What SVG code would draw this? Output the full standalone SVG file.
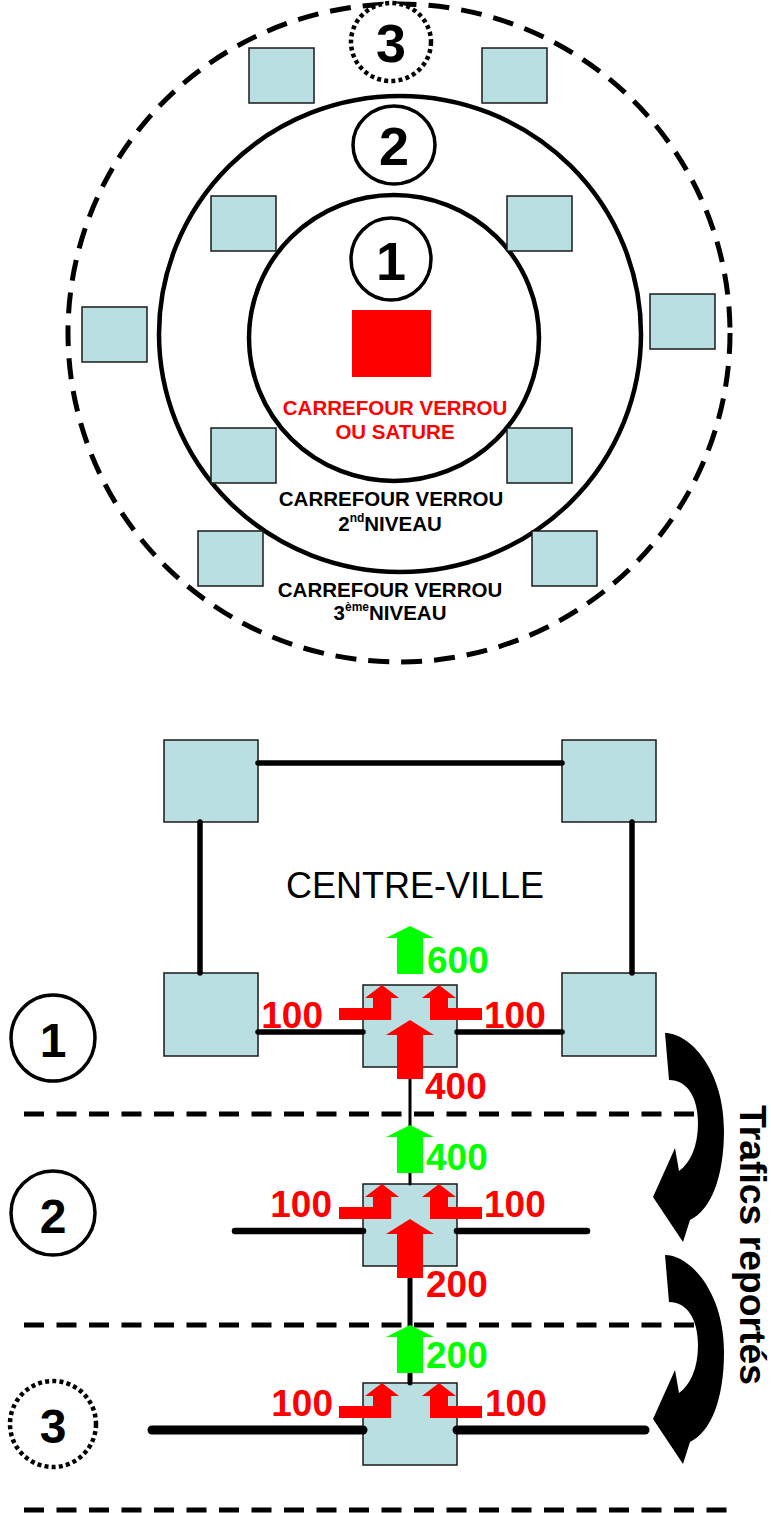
<svg xmlns="http://www.w3.org/2000/svg" xmlns:xlink="http://www.w3.org/1999/xlink" width="771" height="1513" viewBox="0 0 771 1513">
<style>
.box{fill:#B9DFE2;stroke:#1a1a1a;stroke-width:1.5}
.ring{fill:none;stroke:#000;stroke-width:4.5}
.dashring{fill:none;stroke:#000;stroke-width:5;stroke-dasharray:21 12}
.num{fill:#fff;stroke:#000;stroke-width:3.5}
.numdot{fill:#fff;stroke:#000;stroke-width:4.5;stroke-dasharray:4 3.2}
.dig{font-family:"Liberation Sans",Arial,sans-serif;font-weight:bold;text-anchor:middle;fill:#000}
.lbl{font-family:"Liberation Sans",Arial,sans-serif;font-weight:bold;font-size:20.5px;text-anchor:middle}
.val{font-family:"Liberation Sans",Arial,sans-serif;font-weight:bold;font-size:37px}
.red{fill:#FF0000}
.green{fill:#00FF00}
.road{stroke:#000;stroke-linecap:round;fill:none}
.dash{stroke:#000;stroke-width:5;stroke-dasharray:20 12.5;fill:none}
</style>
<defs>
<polygon id="upG" points="0,0 24,12 13,12 13,48 -13,48 -13,12 -24,12"/>
<polygon id="upR" points="0,0 24,15 13,15 13,59 -13,59 -13,15 -24,15"/>
<polygon id="lL" points="0,0 17,13 9,13 9,35 -43,35 -43,23 -9,23 -9,13 -17,13"/>
<polygon id="lR" points="0,0 17,13 9,13 9,23 43,23 43,35 -9,35 -9,13 -17,13"/>
<path id="curv" d="M665,1033 C690,1033 724,1070 724,1130 C724,1177 711,1210 690,1220 L683,1242 L653,1197 L675,1148 L679,1171 C690,1163 698,1147 698,1123 C698,1097 687,1080 669,1080 Z"/>
</defs>

<!-- TOP: concentric zones -->
<g id="zones">
<ellipse id="zone3" class="dashring" cx="399" cy="333" rx="331" ry="329"/>
<ellipse id="zone2" class="ring" cx="400" cy="334" rx="241" ry="238"/>
<ellipse id="zone1" class="ring" cx="394" cy="338" rx="145" ry="143"/>
</g>
<g id="top-boxes">
<rect id="tb1" class="box" x="249" y="48" width="65" height="55"/>
<rect id="tb2" class="box" x="482" y="48" width="65" height="55"/>
<rect id="tb3" class="box" x="211" y="196" width="65" height="55"/>
<rect id="tb4" class="box" x="507" y="196" width="65" height="55"/>
<rect id="tb5" class="box" x="82" y="307" width="65" height="55"/>
<rect id="tb6" class="box" x="650" y="294" width="65" height="55"/>
<rect id="tb7" class="box" x="211" y="428" width="65" height="55"/>
<rect id="tb8" class="box" x="507" y="428" width="65" height="55"/>
<rect id="tb9" class="box" x="198" y="531" width="65" height="55"/>
<rect id="tb10" class="box" x="532" y="531" width="65" height="55"/>
</g>
<g id="center-node">
<rect x="352" y="310" width="79" height="67" fill="#FF0000"/>
</g>
<g id="top-num3">
<ellipse class="numdot" cx="391" cy="42" rx="40" ry="39"/>
<text class="dig" x="391" y="62" font-size="54">3</text>
</g>
<g id="top-num2">
<ellipse class="num" cx="394" cy="145" rx="41" ry="39"/>
<text class="dig" x="394" y="165" font-size="54">2</text>
</g>
<g id="top-num1">
<ellipse class="num" cx="391" cy="259" rx="40" ry="41"/>
<text class="dig" x="391" y="280" font-size="54">1</text>
</g>
<g id="top-labels">
<text class="lbl red" x="395" y="415">CARREFOUR VERROU</text>
<text class="lbl red" x="395" y="439">OU SATURE</text>
<text class="lbl" x="391" y="506">CARREFOUR VERROU</text>
<text class="lbl" x="390" y="531">2<tspan font-size="12" dy="-9">nd</tspan><tspan dy="9">NIVEAU</tspan></text>
<text class="lbl" x="390" y="597">CARREFOUR VERROU</text>
<text class="lbl" x="390" y="620">3<tspan font-size="12" dy="-9">ème</tspan><tspan dy="9">NIVEAU</tspan></text>
</g>

<!-- BOTTOM -->
<g id="level-lines">
<line class="dash" x1="24" y1="1114" x2="695" y2="1114"/>
<line class="dash" x1="24" y1="1325" x2="695" y2="1325"/>
<line class="dash" x1="24" y1="1510" x2="727" y2="1510"/>
</g>

<g id="node-tl"><rect class="box" x="164" y="740" width="94" height="82"/></g>
<g id="node-tr"><rect class="box" x="562" y="740" width="94" height="82"/></g>
<g id="node-bl"><rect class="box" x="164" y="973" width="94" height="83"/></g>
<g id="node-br"><rect class="box" x="562" y="973" width="94" height="83"/></g>
<g id="node-c1"><rect class="box" x="363" y="985" width="94" height="82"/></g>
<g id="node-c2"><rect class="box" x="363" y="1184" width="94" height="82"/></g>
<g id="node-c3"><rect class="box" x="363" y="1383" width="94" height="82"/></g>

<g id="connectors">
<line class="road" x1="258" y1="763" x2="562" y2="763" stroke-width="5.5" stroke-linecap="butt"/>
<line class="road" x1="200" y1="822" x2="200" y2="973" stroke-width="5.5" stroke-linecap="butt"/>
<line class="road" x1="632" y1="822" x2="632" y2="973" stroke-width="5.5" stroke-linecap="butt"/>
<line class="road" x1="258" y1="1032" x2="363" y2="1032" stroke-width="5.5" stroke-linecap="butt"/>
<line class="road" x1="457" y1="1032" x2="562" y2="1032" stroke-width="5.5" stroke-linecap="butt"/>
<line class="road" x1="410" y1="1067" x2="410" y2="1184" stroke-width="3"/>
<line class="road" x1="235" y1="1231" x2="363" y2="1231" stroke-width="6.5"/>
<line class="road" x1="457" y1="1231" x2="587" y2="1231" stroke-width="6.5"/>
<line class="road" x1="410" y1="1266" x2="410" y2="1383" stroke-width="5"/>
<line class="road" x1="152" y1="1430" x2="363" y2="1430" stroke-width="9"/>
<line class="road" x1="457" y1="1430" x2="645" y2="1430" stroke-width="9"/>
</g>

<text id="centre-ville" x="415" y="898" font-family="'Liberation Sans',Arial,sans-serif" font-size="36" text-anchor="middle" fill="#000">CENTRE-VILLE</text>

<g id="flows-1">
<use xlink:href="#upG" class="green" x="410" y="926"/>
<use xlink:href="#lL" class="red" x="382" y="985"/>
<use xlink:href="#lR" class="red" x="439" y="985"/>
<use xlink:href="#upR" class="red" x="410" y="1020"/>
<text class="val green" x="427" y="973">600</text>
<text class="val red" x="323" y="1028" text-anchor="end">100</text>
<text class="val red" x="484" y="1028">100</text>
<text class="val red" x="425" y="1099">400</text>
</g>
<g id="flows-2">
<use xlink:href="#upG" class="green" x="410" y="1125"/>
<use xlink:href="#lL" class="red" x="382" y="1184"/>
<use xlink:href="#lR" class="red" x="439" y="1184"/>
<use xlink:href="#upR" class="red" x="410" y="1219"/>
<text class="val green" x="426" y="1170">400</text>
<text class="val red" x="332" y="1217" text-anchor="end">100</text>
<text class="val red" x="484" y="1217">100</text>
<text class="val red" x="426" y="1297">200</text>
</g>
<g id="flows-3">
<use xlink:href="#upG" class="green" x="410" y="1325"/>
<use xlink:href="#lL" class="red" x="382" y="1383"/>
<use xlink:href="#lR" class="red" x="439" y="1383"/>
<text class="val green" x="426" y="1368">200</text>
<text class="val red" x="333" y="1416" text-anchor="end">100</text>
<text class="val red" x="485" y="1416">100</text>
</g>

<g id="num1">
<ellipse class="num" cx="53" cy="1038" rx="42" ry="43"/>
<text class="dig" x="53" y="1057" font-size="48">1</text>
</g>
<g id="num2">
<ellipse class="num" cx="53" cy="1213" rx="42" ry="42"/>
<text class="dig" x="53" y="1233" font-size="48">2</text>
</g>
<g id="num3">
<ellipse class="numdot" cx="53" cy="1424" rx="43" ry="43"/>
<text class="dig" x="53" y="1443" font-size="48">3</text>
</g>

<g id="report-arrows">
<use xlink:href="#curv" fill="#000"/>
<use xlink:href="#curv" fill="#000" y="222"/>
</g>
<text id="trafics" transform="translate(740,1105) rotate(90)" font-family="'Liberation Sans',Arial,sans-serif" font-weight="bold" font-size="36" textLength="280" lengthAdjust="spacingAndGlyphs" fill="#000">Trafics reportés</text>
</svg>
